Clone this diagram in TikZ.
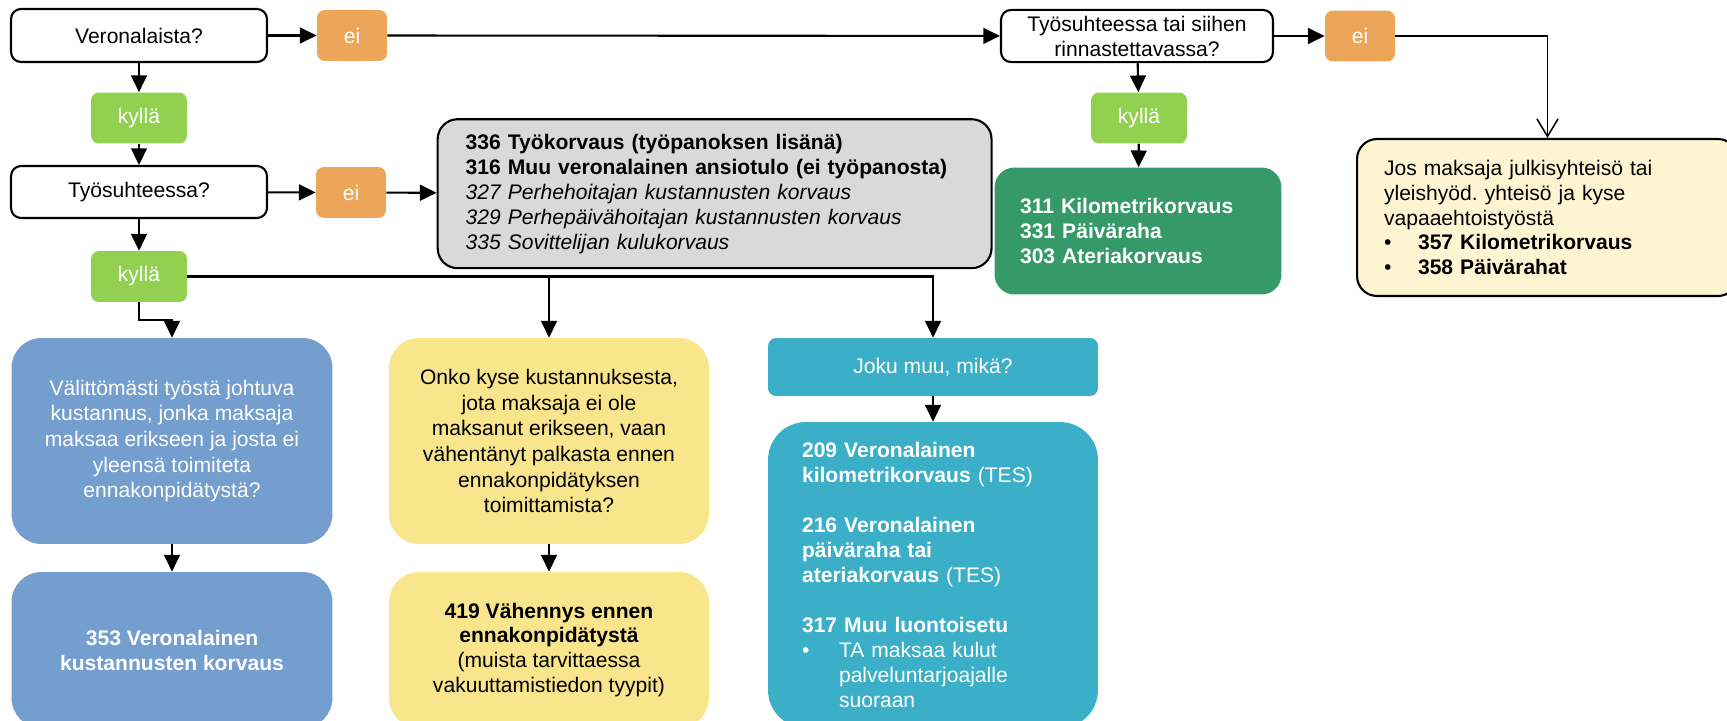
\documentclass[tikz,border=0pt]{standalone}
\usepackage{fontspec}
\setmainfont{Liberation Sans}
\usetikzlibrary{arrows.meta}
\frenchspacing
\definecolor{eiorange}{RGB}{237,165,90}
\definecolor{kyllagreen}{RGB}{146,208,80}
\definecolor{darkgreen}{RGB}{53,154,104}
\definecolor{boxblue}{RGB}{116,158,206}
\definecolor{boxyellow}{RGB}{249,229,140}
\definecolor{boxteal}{RGB}{59,175,200}
\definecolor{lightyellow}{RGB}{255,245,210}
\definecolor{boxgrey}{RGB}{217,217,217}
\begin{document}
\begin{tikzpicture}[x=0.02cm,y=-0.02cm,
  font=\fontsize{12pt}{14.2pt}\selectfont,
  box/.style={draw,line width=1.2pt,rounded corners=0.2cm,fill=white,align=center},
  ei/.style={fill=eiorange,text=white,rounded corners=0.16cm,minimum width=1.4cm,minimum height=1.02cm},
  kylla/.style={fill=kyllagreen,text=white,rounded corners=0.16cm,minimum width=1.92cm,minimum height=1.02cm},
  big/.style={rounded corners=0.6cm,minimum width=6.42cm,align=center},
  arr/.style={line width=1.2pt,-{Triangle[length=9.5pt,width=9pt]}}]
\useasboundingbox (0,0) rectangle (1727,720);
\clip (0,0) rectangle (1727,720);
% top row
\node[box, minimum width=5.12cm, minimum height=1.06cm] (1) at (139,35.5) {Veronalaista?};
\node[ei] (2) at (352,35.5) {ei};
\node[box, minimum width=5.44cm, minimum height=1.04cm] (3) at (1137,36) {Työsuhteessa tai siihen\\rinnastettavassa?};
\node[ei] (4) at (1360,36) {ei};
\node[kylla] (5) at (1139,118) {kyllä};
\node[fill=darkgreen, text=white, rounded corners=0.4cm, minimum width=5.74cm, minimum height=2.54cm, text width=4.72cm, inner xsep=0pt, align=left, font=\fontsize{12pt}{14.2pt}\selectfont\bfseries] (6) at (1138,231) {311 Kilometrikorvaus\\331 Päiväraha\\303 Ateriakorvaus};
\node[draw, line width=1.2pt, fill=lightyellow, rounded corners=0.4cm, minimum width=7.62cm, minimum height=3.14cm, text width=6.54cm, inner xsep=0pt, align=left] (7) at (1547.5,217.5) {Jos maksaja julkisyhteisö tai\\yleishyöd. yhteisö ja kyse\\vapaaehtoistyöstä\\\makebox[0.68cm][l]{\textbullet}\textbf{357 Kilometrikorvaus}\\\makebox[0.68cm][l]{\textbullet}\textbf{358 Päivärahat}};

% left column
\node[kylla] (8) at (139,118) {kyllä};
\node[box, minimum width=5.12cm, minimum height=1.04cm] (9) at (139,192) {Työsuhteessa?};
\node[ei] (10) at (351,192.5) {ei};
\node[draw, line width=1.2pt, fill=boxgrey, rounded corners=0.4cm, minimum width=11.08cm, minimum height=2.98cm, text width=9.96cm, inner xsep=0pt, align=left] (11) at (714.6,193.7) {\textbf{336 Työkorvaus (työpanoksen lisänä)}\\\textbf{316 Muu veronalainen ansiotulo (ei työpanosta)}\\\textit{327 Perhehoitajan kustannusten korvaus}\\\textit{329 Perhepäivähoitajan kustannusten korvaus}\\\textit{335 Sovittelijan kulukorvaus}};
\node[kylla] (12) at (139,276.5) {kyllä};

% bottom boxes
\node[big, fill=boxblue, text=white, minimum height=4.12cm, font=\fontsize{12pt}{14.6pt}\selectfont] (13) at (172,441) {Välittömästi työstä johtuva\\kustannus, jonka maksaja\\maksaa erikseen ja josta ei\\yleensä toimiteta\\ennakonpidätystä?};
\node[big, fill=boxyellow, minimum width=6.4cm, minimum height=4.12cm, font=\fontsize{12pt}{14.6pt}\selectfont] (14) at (549,441) {Onko kyse kustannuksesta,\\jota maksaja ei ole\\maksanut erikseen, vaan\\vähentänyt palkasta ennen\\ennakonpidätyksen\\toimittamista?};
\node[fill=boxteal, text=white, rounded corners=0.16cm, minimum width=6.6cm, minimum height=1.16cm] (15) at (933,367) {Joku muu, mikä?};
\node[fill=boxteal, text=white, rounded corners=0.76cm, minimum width=6.6cm, minimum height=6.12cm, text width=5.24cm, inner xsep=0pt, align=left] (16) at (933,575) {\textbf{209 Veronalainen}\\\textbf{kilometrikorvaus} (TES)\\[14.2pt]\textbf{216 Veronalainen}\\\textbf{päiväraha tai}\\\textbf{ateriakorvaus} (TES)\\[14.2pt]\textbf{317 Muu luontoisetu}\\\makebox[0.74cm][l]{\textbullet}\parbox[t]{4.4cm}{\fontsize{12pt}{14.2pt}\selectfont TA maksaa kulut\\palveluntarjoajalle\\suoraan}};
\node[big, fill=boxblue, text=white, minimum height=3.12cm, font=\fontsize{12pt}{14.2pt}\selectfont\bfseries] (17) at (172,650) {353 Veronalainen\\kustannusten korvaus};
\node[big, fill=boxyellow, minimum width=6.4cm, minimum height=3.12cm] (18) at (549,650) {\textbf{419 Vähennys ennen}\\\textbf{ennakonpidätystä}\\(muista tarvittaessa\\vakuuttamistiedon tyypit)};

% connectors
\path[draw,arr] (1) -- (2);
\path[draw,arr] (2) -- (3);
\path[draw,arr] (3) -- (4);
\path[draw,line width=0.9pt,-{Straight Barb[length=10pt,width=12pt]}] (4.east) -| (7.north);
\path[draw,arr] (3) -- (5);
\path[draw,arr] (5) -- (6);
\path[draw,arr] (1) -- (8);
\path[draw,arr] (8) -- (9);
\path[draw,arr] (9) -- (10);
\path[draw,arr] (10) -- (11);
\path[draw,arr] (9) -- (12);
\path[draw,arr] (12.south) -- ++(0,18) -| (13.north);
\path[draw,arr] (12.east) -| (15.north);
\path[draw,arr] (12.east -| 14.north) -- (14.north);
\path[draw,arr] (13) -- (17);
\path[draw,arr] (14) -- (18);
\path[draw,arr] (15) -- (16);
\end{tikzpicture}
\end{document}
